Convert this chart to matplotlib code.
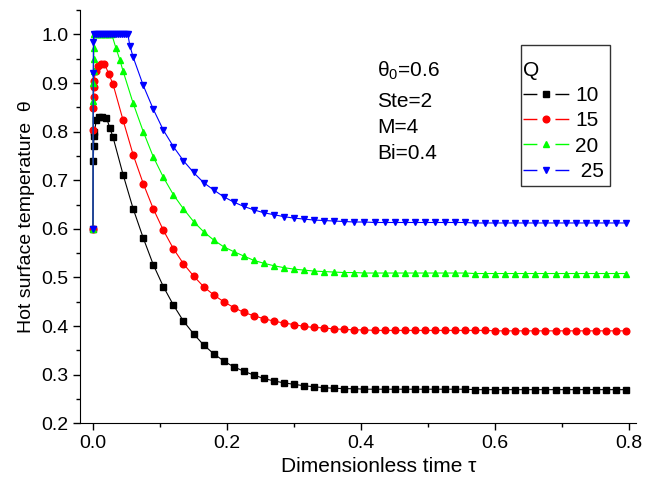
import numpy as np
import matplotlib
matplotlib.use("Agg")
import matplotlib.pyplot as plt
from matplotlib.lines import Line2D
from matplotlib.patches import Rectangle
from matplotlib.ticker import MultipleLocator, FormatStrFormatter

plt.rcParams['font.family'] = ['Liberation Sans', 'DejaVu Sans']
plt.rcParams['mathtext.fontset'] = 'custom'
plt.rcParams['mathtext.rm'] = 'Liberation Sans'
plt.rcParams['mathtext.it'] = 'Liberation Sans'

# regular output grid after the start-up transient (tau = 0.03 ... 0.795)
tau_coarse = np.round(0.015 * np.arange(2, 54), 4)

# Q = 10
black_tau_early = [0.0, 0.0005, 0.001, 0.0015, 0.002, 0.005, 0.009, 0.014, 0.02, 0.025]
black_theta_early = [0.600, 0.740, 0.771, 0.790, 0.800, 0.823, 0.831, 0.831, 0.829, 0.808]
black_theta_late = [0.788, 0.711, 0.641, 0.581, 0.526, 0.481, 0.443, 0.410, 0.384, 0.361,
                    0.343, 0.328, 0.316, 0.307, 0.299, 0.292, 0.287, 0.283, 0.280, 0.277,
                    0.275, 0.273, 0.272, 0.271, 0.271, 0.270, 0.270, 0.270, 0.270, 0.270,
                    0.270, 0.270, 0.270, 0.270, 0.270, 0.270, 0.269, 0.269, 0.269, 0.269,
                    0.269, 0.269, 0.269, 0.269, 0.269, 0.269, 0.269, 0.269, 0.269, 0.269,
                    0.269, 0.269]

# Q = 15
red_tau_early = [0.0, 0.0003, 0.0006, 0.0009, 0.0012, 0.0015, 0.004, 0.007, 0.012, 0.017, 0.0235]
red_theta_early = [0.600, 0.804, 0.849, 0.872, 0.891, 0.905, 0.924, 0.934, 0.940, 0.940, 0.919]
red_theta_late = [0.897, 0.823, 0.752, 0.693, 0.641, 0.597, 0.559, 0.528, 0.503, 0.481,
                  0.464, 0.450, 0.438, 0.428, 0.421, 0.415, 0.410, 0.406, 0.403, 0.399,
                  0.397, 0.396, 0.394, 0.393, 0.392, 0.392, 0.391, 0.391, 0.391, 0.391,
                  0.391, 0.391, 0.391, 0.391, 0.391, 0.391, 0.391, 0.391, 0.390, 0.390,
                  0.390, 0.390, 0.390, 0.390, 0.390, 0.390, 0.390, 0.390, 0.390, 0.390,
                  0.390, 0.390]

# Q = 20
green_tau_early = [0.0, 0.0003, 0.0006, 0.0009, 0.0012, 0.0015, 0.002, 0.004, 0.006, 0.008,
                   0.010, 0.012, 0.014, 0.016, 0.018, 0.020, 0.022, 0.024, 0.026, 0.028,
                   0.034, 0.040]
green_theta_early = [0.600, 0.862, 0.900, 0.925, 0.950, 0.972, 1.0, 1.0, 1.0, 1.0,
                     1.0, 1.0, 1.0, 1.0, 1.0, 1.0, 1.0, 1.0, 1.0, 1.0,
                     0.973, 0.948]
green_theta_late = [0.924, 0.858, 0.800, 0.748, 0.706, 0.670, 0.641, 0.615, 0.594, 0.577,
                    0.563, 0.553, 0.544, 0.535, 0.529, 0.524, 0.520, 0.517, 0.515, 0.513,
                    0.512, 0.511, 0.510, 0.510, 0.509, 0.509, 0.509, 0.509, 0.509, 0.509,
                    0.509, 0.509, 0.509, 0.509, 0.509, 0.508, 0.508, 0.508, 0.508, 0.508,
                    0.508, 0.508, 0.508, 0.508, 0.508, 0.508, 0.508, 0.508, 0.508, 0.508,
                    0.508]

# Q = 25
blue_tau_early = [0.0, 0.0003, 0.0006, 0.001, 0.004, 0.007, 0.010, 0.013, 0.016, 0.019,
                  0.022, 0.025, 0.028, 0.031, 0.034, 0.037, 0.040, 0.043, 0.046, 0.049,
                  0.052, 0.055]
blue_theta_early = [0.600, 0.920, 0.984, 1.0, 1.0, 1.0, 1.0, 1.0, 1.0, 1.0,
                    1.0, 1.0, 1.0, 1.0, 1.0, 1.0, 1.0, 1.0, 1.0, 1.0,
                    1.0, 0.977]
blue_theta_late = [0.953, 0.895, 0.846, 0.803, 0.769, 0.740, 0.716, 0.695, 0.680, 0.666,
                   0.655, 0.646, 0.639, 0.633, 0.629, 0.625, 0.622, 0.620, 0.618, 0.617,
                   0.616, 0.615, 0.614, 0.614, 0.613, 0.613, 0.613, 0.613, 0.613, 0.613,
                   0.613, 0.613, 0.613, 0.613, 0.612, 0.612, 0.612, 0.612, 0.612, 0.612,
                   0.612, 0.612, 0.612, 0.612, 0.612, 0.612, 0.612, 0.612, 0.612, 0.612]

series = [
    ('10', '#000000', 's', black_tau_early + list(tau_coarse), black_theta_early + black_theta_late),
    ('15', '#ff0000', 'o', red_tau_early + list(tau_coarse), red_theta_early + red_theta_late),
    ('20', '#00ff00', '^', green_tau_early + list(tau_coarse[1:]), green_theta_early + green_theta_late),
    (' 25', '#0000ff', 'v', blue_tau_early + list(tau_coarse[2:]), blue_theta_early + blue_theta_late),
]

fig = plt.figure(figsize=(6.45, 4.82), dpi=100)
ax = fig.add_axes([0.124, 0.122, 0.862, 0.857])

handles = []
labels = []
for lab, col, mk, x, y in series:
    ax.plot(x, y, color=col, lw=0.8, marker=mk, ms=4.8, mec=col, mfc=col)
    seg = Line2D([], [], color=col, lw=1.0, linestyle=(0, (10, 13)))
    dot = Line2D([], [], color=col, marker=mk, ms=4.8, linestyle='none')
    handles.append((seg, dot))
    labels.append(lab)

ax.set_xlim(-0.0194, 0.81)
ax.set_ylim(0.2, 1.05)
ax.spines['top'].set_visible(False)
ax.spines['right'].set_visible(False)
ax.xaxis.set_major_locator(MultipleLocator(0.2))
ax.xaxis.set_minor_locator(MultipleLocator(0.1))
ax.yaxis.set_major_locator(MultipleLocator(0.1))
ax.yaxis.set_minor_locator(MultipleLocator(0.05))
ax.xaxis.set_major_formatter(FormatStrFormatter('%.1f'))
ax.yaxis.set_major_formatter(FormatStrFormatter('%.1f'))
ax.tick_params(which='major', direction='out', length=5, width=1, labelsize=14)
ax.tick_params(which='minor', direction='out', length=3, width=1)

ax.set_xlabel('Dimensionless time τ', fontsize=15)
ax.xaxis.set_label_coords(0.538, -0.083)
ax.set_ylabel('Hot surface temperature  θ', fontsize=14)

ax.text(0.424, 0.926, r'θ$_0$=0.6', fontsize=15, ha='left', va='center')
ax.text(0.424, 0.862, 'Ste=2', fontsize=15, ha='left', va='center')
ax.text(0.424, 0.808, 'M=4', fontsize=15, ha='left', va='center')
ax.text(0.424, 0.755, 'Bi=0.4', fontsize=15, ha='left', va='center')

# legend box drawn separately so the lines can start right at the frame
ax.add_patch(Rectangle((0.793, 0.574), 0.160, 0.341, transform=ax.transAxes,
                       fill=False, edgecolor='#333333', lw=1.0, zorder=5))
leg = ax.legend(handles, labels, title='Q', loc='upper left', bbox_to_anchor=(0.797, 0.877),
                borderaxespad=0, borderpad=0, fontsize=15, title_fontsize=15, alignment='left',
                numpoints=1, handlelength=2.2, handletextpad=0.3, labelspacing=0.3,
                frameon=False)

fig.savefig('out.png', dpi=100)
